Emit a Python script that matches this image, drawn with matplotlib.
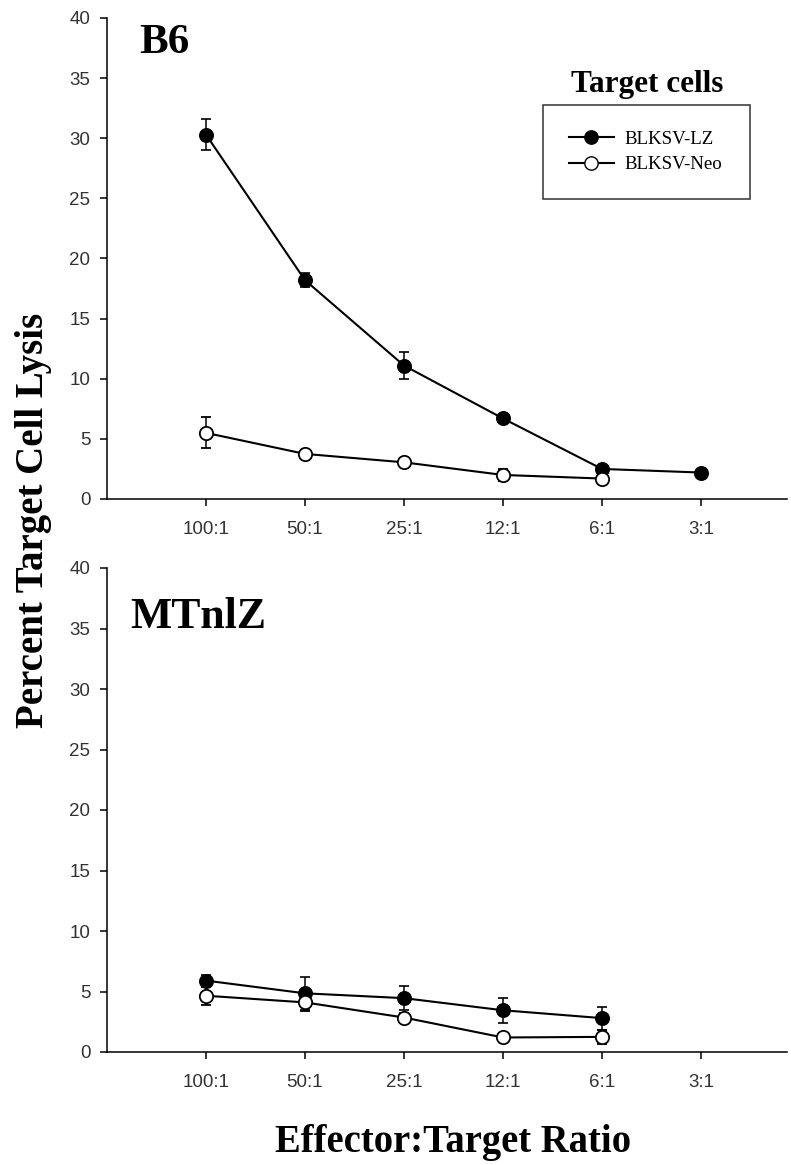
import matplotlib
matplotlib.use("Agg")
import matplotlib.pyplot as plt
from matplotlib.lines import Line2D
import numpy as np

# ---- data ----
ratios = ["100:1", "50:1", "25:1", "12:1", "6:1", "3:1"]
yticks = [0, 5, 10, 15, 20, 25, 30, 35, 40]

b6_lz = [30.3, 18.2, 11.1, 6.7, 2.5, 2.2]
b6_lz_err = [1.3, 0.6, 1.15, 0.2, 0.2, 0.2]
b6_neo = [5.5, 3.75, 3.05, 2.0, 1.7]
b6_neo_err = [1.3, 0.2, 0.2, 0.5, 0.2]

mt_lz = [5.9, 4.85, 4.45, 3.45, 2.8]
mt_lz_err = [0.5, 1.35, 1.0, 1.05, 0.95]
mt_neo = [4.65, 4.1, 2.85, 1.2, 1.25]
mt_neo_err = [0.75, 0.7, 0.4, 0.15, 0.6]

series_labels = ["BLKSV-LZ", "BLKSV-Neo"]
panel_titles = ["B6", "MTnlZ"]

W, H = 791, 1165
fig = plt.figure(figsize=(W / 100, H / 100), dpi=100)

serif = ["Liberation Serif", "DejaVu Serif"]
sans = ["Liberation Sans", "DejaVu Sans"]
tick_color = "#333333"


def fx(px):
    return px / W


def fy(py):
    return 1 - py / H


left, right = 107, 787
ax_top = fig.add_axes([fx(left), fy(499), fx(right) - fx(left), fy(18) - fy(499)])
ax_bot = fig.add_axes([fx(left), fy(1052), fx(right) - fx(left), fy(568) - fy(1052)])

ms = 9.6
lw = 1.5


def draw(ax, lz, lz_err, neo, neo_err):
    x_lz = np.arange(len(lz))
    x_neo = np.arange(len(neo))
    ax.errorbar(x_lz, lz, yerr=lz_err, color="black", lw=lw, marker="o",
                ms=ms, mfc="black", mec="black", mew=1.2, capsize=3.5,
                elinewidth=1.1, capthick=1.1, zorder=3)
    ax.errorbar(x_neo, neo, yerr=neo_err, color="black", lw=lw, marker="o",
                ms=ms, mfc="white", mec="black", mew=1.3, capsize=3.5,
                elinewidth=1.1, capthick=1.1, zorder=4)
    ax.set_xlim(-1, 5.87)
    ax.set_ylim(0, 40)
    ax.set_xticks(range(len(ratios)))
    ax.set_xticklabels(ratios)
    ax.set_yticks(yticks)
    ax.set_yticklabels([str(v) for v in yticks])
    for s in ["top", "right"]:
        ax.spines[s].set_visible(False)
    for s in ["left", "bottom"]:
        ax.spines[s].set_linewidth(1.1)
    ax.tick_params(axis="both", direction="out", length=5, width=1.1,
                   labelsize=13.5, labelcolor=tick_color)
    ax.tick_params(axis="x", pad=11)
    ax.tick_params(axis="y", pad=7)
    for lab in ax.get_xticklabels() + ax.get_yticklabels():
        lab.set_family(sans)
    ax.patch.set_alpha(0)


draw(ax_top, b6_lz, b6_lz_err, b6_neo, b6_neo_err)
draw(ax_bot, mt_lz, mt_lz_err, mt_neo, mt_neo_err)

# panel labels
fig.text(fx(139), fy(53), panel_titles[0], family=serif, weight="bold",
         fontsize=31, ha="left", va="baseline")
fig.text(fx(130), fy(628), panel_titles[1], family=serif, weight="bold",
         fontsize=31.5, ha="left", va="baseline")

# axis labels
fig.text(fx(34), fy(520), "Percent Target Cell Lysis", family=serif,
         weight="bold", fontsize=28, rotation=90, ha="center", va="center")
fig.text(fx(453), fy(1152), "Effector:Target Ratio", family=serif,
         weight="bold", fontsize=27.8, ha="center", va="baseline")

# legend
handles = [
    Line2D([], [], color="black", lw=lw, marker="o", ms=ms, mfc="black", mec="black"),
    Line2D([], [], color="black", lw=lw, marker="o", ms=ms, mfc="white", mec="black"),
]
leg = ax_top.legend(handles, series_labels, loc="upper left",
                    bbox_to_anchor=(fx(543), fy(105), fx(750) - fx(543), 0),
                    bbox_transform=fig.transFigure, mode="expand",
                    prop={"family": serif, "size": 13.6},
                    frameon=True, fancybox=False, edgecolor="black",
                    borderpad=1.35, handlelength=2.4, handletextpad=0.55,
                    labelspacing=0.45, borderaxespad=0)
leg.get_frame().set_linewidth(1.1)
fig.text(fx(647), fy(92), "Target cells", family=serif, weight="bold",
         fontsize=22.5, ha="center", va="baseline")

fig.savefig("out.png", dpi=100)
